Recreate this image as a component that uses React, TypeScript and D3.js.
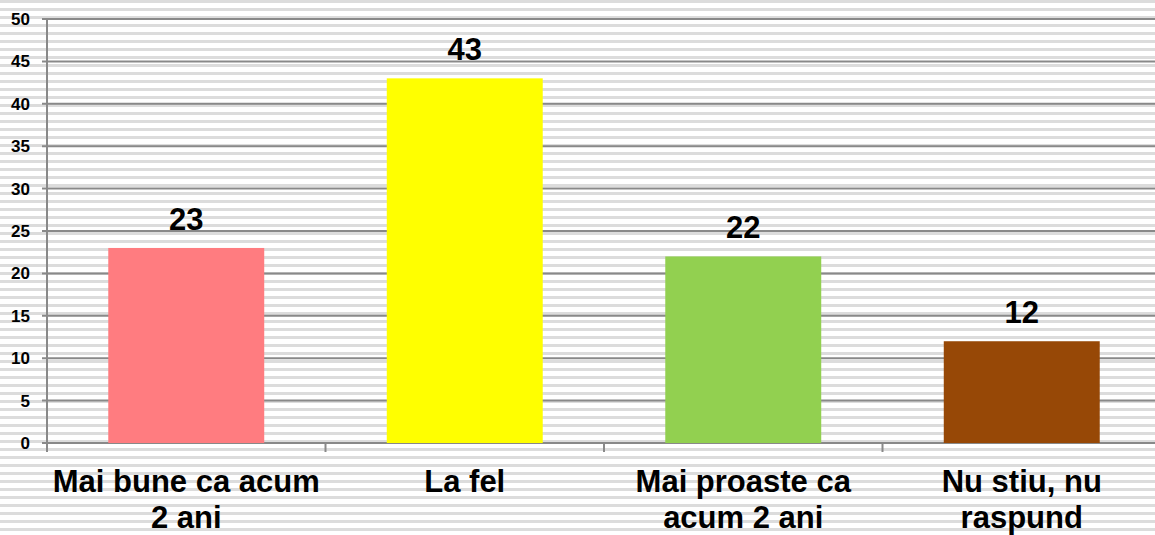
import React from 'react';
import * as d3 from 'd3';

const categories = [
  ['Mai bune ca acum', '2 ani'],
  ['La fel'],
  ['Mai proaste ca', 'acum 2 ani'],
  ['Nu stiu, nu', 'raspund'],
];
const values = [23, 43, 22, 12];
const barColors = ['#FF7C80', '#FFFF00', '#92D050', '#974806'];
const yTicks = [0, 5, 10, 15, 20, 25, 30, 35, 40, 45, 50];

const W = 1155;
const H = 535;
const margin = { top: 19, left: 47, bottom: 443 };
const plotRight = 1161;
const font = '"Liberation Sans", Arial, sans-serif';
const gridColor = '#898989';

export default function App() {
  const x = d3
    .scaleBand<number>()
    .domain(d3.range(values.length))
    .range([margin.left, plotRight])
    .paddingInner(0.44)
    .paddingOuter(0.22);
  const y = d3.scaleLinear().domain([0, 50]).range([margin.bottom, margin.top]);
  const step = x.step();
  const boundaries = d3.range(values.length + 1).map((i) => margin.left + i * step);

  return (
    <svg
      width={W}
      height={H}
      style={{ position: 'absolute', left: 0, top: 0 }}
      fontFamily={font}
    >
      <defs>
        <pattern id="stripes" width={8} height={8} patternUnits="userSpaceOnUse">
          <rect width={8} height={8} fill="#ffffff" />
          <rect width={8} height={3} fill="#dcdcdc" />
        </pattern>
      </defs>
      <rect width={W} height={H} fill="url(#stripes)" />

      {/* gridlines + y ticks */}
      {yTicks.map((t) => (
        <g key={t}>
          <line x1={margin.left - 5} x2={W} y1={y(t)} y2={y(t)} stroke={gridColor} strokeWidth={2} />
          <text
            x={30}
            y={y(t)}
            dy="0.35em"
            textAnchor="end"
            fontSize={17}
            fontWeight="bold"
            fill="#000"
          >
            {t}
          </text>
        </g>
      ))}
      <line x1={margin.left} x2={margin.left} y1={margin.top} y2={margin.bottom + 9} stroke={gridColor} strokeWidth={2} />
      {boundaries.map((b, i) => (
        <line key={i} x1={b} x2={b} y1={margin.bottom} y2={margin.bottom + 9} stroke={gridColor} strokeWidth={2} />
      ))}

      {/* bars */}
      {values.map((v, i) => (
        <g key={i}>
          <rect
            x={x(i)}
            y={y(v)}
            width={x.bandwidth()}
            height={y(0) - y(v)}
            fill={barColors[i]}
          />
          <text
            x={(x(i) as number) + x.bandwidth() / 2}
            y={y(v) - 18}
            textAnchor="middle"
            fontSize={31}
            fontWeight="bold"
            fill="#000"
          >
            {v}
          </text>
        </g>
      ))}

      {/* category labels */}
      {categories.map((lines, i) => (
        <text
          key={i}
          x={(x(i) as number) + x.bandwidth() / 2}
          y={492}
          textAnchor="middle"
          fontSize={31}
          fontWeight="bold"
          fill="#000"
        >
          {lines.map((l, j) => (
            <tspan key={j} x={(x(i) as number) + x.bandwidth() / 2} dy={j === 0 ? 0 : 36}>
              {l}
            </tspan>
          ))}
        </text>
      ))}
    </svg>
  );
}
